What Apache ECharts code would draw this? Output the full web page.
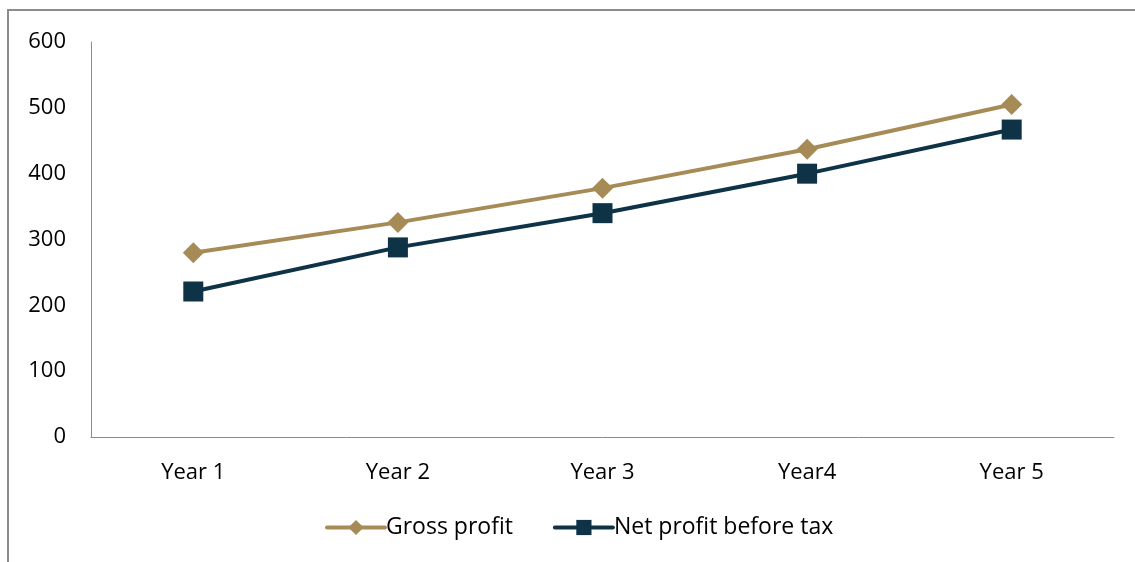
<!DOCTYPE html>
<html>
<head>
<meta charset="utf-8">
<script src="https://cdn.jsdelivr.net/npm/echarts@6/dist/echarts.min.js"></script>
<style>
  html, body { margin: 0; padding: 0; background: #fff; }
  #chart { width: 1135px; height: 562px; }
</style>
</head>
<body>
<div id="chart"></div>
<script>
// Five-year profit projection
const categories = ['Year 1', 'Year 2', 'Year 3', 'Year4', 'Year 5'];
const grossProfit = [280, 326, 378, 437, 505];
const netProfitBeforeTax = [221, 288, 340, 400, 467];
const yTicks = { min: 0, max: 600, interval: 100 };

const GOLD = '#A68B57';
const NAVY = '#0E3246';
const FONT = '"Open Sans", "Noto Sans", sans-serif';
const FONT_SIZE = 22;

const chart = echarts.init(document.getElementById('chart'), null, { renderer: 'canvas' });
chart.setOption({
  animation: false,
  textStyle: { fontFamily: FONT },
  grid: { left: 91, right: 21, top: 42, bottom: 125, containLabel: false },
  xAxis: {
    type: 'category',
    data: categories,
    boundaryGap: true,
    axisLine: { lineStyle: { color: '#8c8c8c', width: 1 } },
    axisTick: { show: false },
    axisLabel: { color: '#000', fontSize: FONT_SIZE, margin: 25, fontFamily: FONT }
  },
  yAxis: {
    type: 'value',
    min: yTicks.min, max: yTicks.max, interval: yTicks.interval,
    axisLine: { show: true, lineStyle: { color: '#8c8c8c', width: 1 } },
    axisTick: { show: false },
    splitLine: { show: false },
    axisLabel: { color: '#000', fontSize: FONT_SIZE, margin: 25, fontFamily: FONT }
  },
  legend: {
    bottom: 18,
    left: 320,
    itemWidth: 58,
    itemHeight: 19,
    itemGap: 40,
    lineStyle: { width: 4, cap: 'round' },
    textStyle: { color: '#000', fontSize: FONT_SIZE + 1, fontFamily: FONT, padding: [0, 0, 0, -4] },
    data: ['Gross profit', 'Net profit before tax']
  },
  series: [
    {
      name: 'Gross profit',
      type: 'line',
      data: grossProfit,
      symbol: 'diamond',
      symbolSize: 21,
      lineStyle: { color: GOLD, width: 4, cap: 'round' },
      itemStyle: { color: GOLD }
    },
    {
      name: 'Net profit before tax',
      type: 'line',
      data: netProfitBeforeTax,
      symbol: 'rect',
      symbolSize: 20,
      lineStyle: { color: NAVY, width: 4, cap: 'round' },
      itemStyle: { color: NAVY }
    }
  ],
  graphic: [
    { type: 'line', shape: { x1: 8, y1: 10, x2: 8, y2: 562 }, style: { stroke: '#8c8c8c', lineWidth: 2 } },
    { type: 'line', shape: { x1: 7, y1: 10, x2: 1135, y2: 10 }, style: { stroke: '#8c8c8c', lineWidth: 2 } }
  ]
});
</script>
</body>
</html>
